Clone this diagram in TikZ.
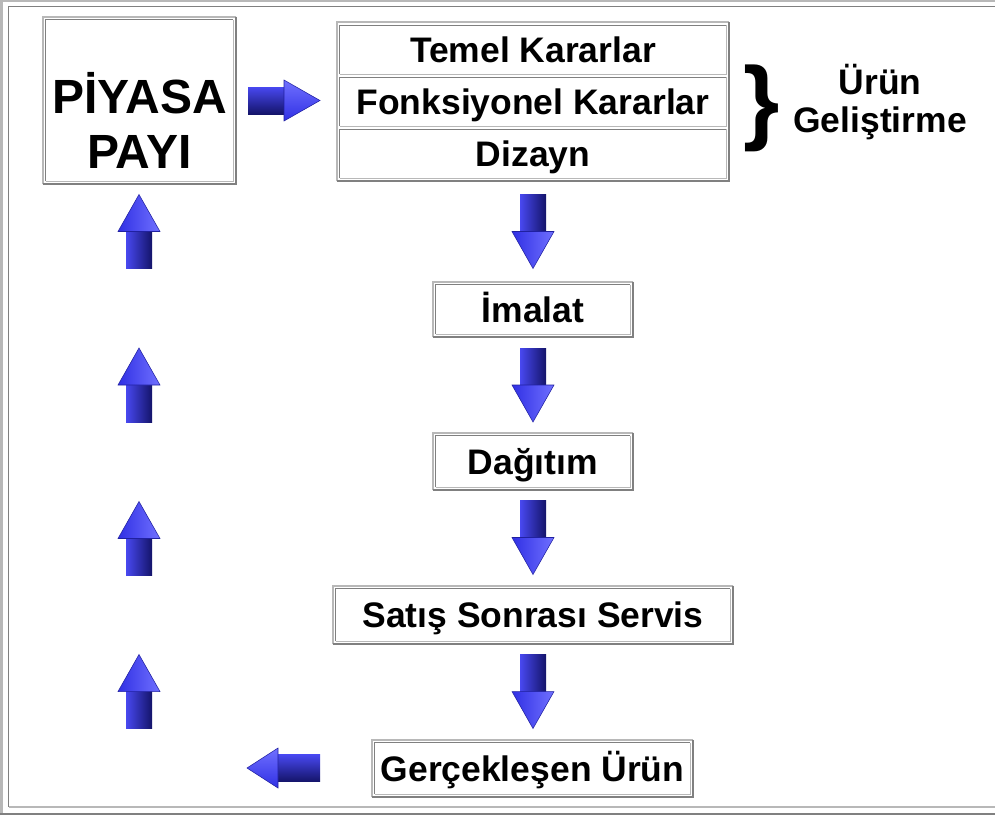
\documentclass[tikz,border=0pt]{standalone}
\usepackage{fontspec}
\setmainfont{Liberation Sans}
\definecolor{lgray}{HTML}{B8B8B8}
\definecolor{dgray}{HTML}{808080}
\definecolor{ashaftL}{HTML}{4848F0}
\definecolor{ashaftM}{HTML}{2828C8}
\definecolor{ashaftR}{HTML}{14146A}
\definecolor{aheadL}{HTML}{3030E4}
\definecolor{aheadR}{HTML}{7070FF}
\definecolor{aheadE}{HTML}{2020A0}
\newcommand\outsetframe[1]{%
  \draw[lline] (#1.south west) -- (#1.north west) -- (#1.north east);
  \draw[dline] (#1.north east) -- (#1.south east) -- (#1.south west);}
\newcommand\insetframe[2]{%
  \draw[dthin] ([shift={(#2,-#2)}]#1.south west) -- ([shift={(#2,#2)}]#1.north west) -- ([shift={(-#2,#2)}]#1.north east);
  \draw[lthin] ([shift={(-#2,#2)}]#1.north east) -- ([shift={(-#2,-#2)}]#1.south east) -- ([shift={(#2,-#2)}]#1.south west);}
\newcommand\blockup[1]{\begin{scope}[shift={#1}]
  \path[left color=ashaftL, middle color=ashaftM, right color=ashaftR] (-13,-1) rectangle (13,37);
  \path[left color=aheadL, right color=aheadR, draw=aheadE, line width=0.4pt] (-21,0) -- (0,-37) -- (21,0) -- cycle;
\end{scope}}
\newcommand\blockdown[1]{\begin{scope}[shift={#1}]
  \path[left color=ashaftL, middle color=ashaftM, right color=ashaftR] (-13,-37) rectangle (13,1);
  \path[left color=aheadL, right color=aheadR, draw=aheadE, line width=0.4pt] (-21,0) -- (0,37) -- (21,0) -- cycle;
\end{scope}}
\newcommand\blockright[1]{\begin{scope}[shift={#1}]
  \path[top color=ashaftL, middle color=ashaftM, bottom color=ashaftR] (-36,-13.5) rectangle (1,13.5);
  \path[top color=aheadR, bottom color=aheadL, draw=aheadE, line width=0.4pt] (0,-20.5) -- (36,0) -- (0,20.5) -- cycle;
\end{scope}}
\newcommand\blockleft[1]{\begin{scope}[shift={#1}]
  \path[top color=ashaftL, middle color=ashaftM, bottom color=ashaftR] (-1,-13.5) rectangle (42,13.5);
  \path[top color=aheadR, bottom color=aheadL, draw=aheadE, line width=0.4pt] (0,-20) -- (-31,0) -- (0,20) -- cycle;
\end{scope}}
\begin{document}
\begin{tikzpicture}[x=0.75pt,y=-0.75pt,
  lline/.style={draw=lgray,line width=1.5pt},
  dline/.style={draw=dgray,line width=1.5pt},
  lthin/.style={draw=lgray,line width=0.9pt},
  dthin/.style={draw=dgray,line width=0.9pt},
  lbl/.style={font=\fontsize{26.6}{32}\selectfont\bfseries, inner sep=0pt, text height=19pt, text depth=0pt},
  boxn/.style={lbl, minimum width=#1*0.75pt}]
\useasboundingbox (0,0) rectangle (995,819);
\fill[white] (0,0) rectangle (995,819);
% outer frame
\draw[lline] (1.5,815) -- (1.5,1) -- (995,1);
\draw[dline] (0,814) -- (995,814);
\draw[dthin] (8.5,807) -- (8.5,6.5) -- (995,6.5);
\draw[lthin] (8.5,807) -- (995,807);
% PIYASA PAYI
\node[minimum width=193*0.75pt, minimum height=167*0.75pt, inner sep=0pt] (piyasa) at (139.5,100.5) {};
\node[font=\fontsize{36}{41.25}\selectfont\bfseries, align=center, inner sep=0pt] (piyasatxt) at (139.5,120) {PİYASA\\PAYI};
\outsetframe{piyasa}\insetframe{piyasa}{3}
% stack
\node[boxn=386, minimum height=48.5*0.75pt] (temel) at (533,49.75) {Temel Kararlar};
\node[boxn=386, minimum height=48.5*0.75pt] (fonks) at (533,101.75) {Fonksiyonel Kararlar};
\node[boxn=386, minimum height=48.5*0.75pt] (dizayn) at (533,153.75) {Dizayn};
\coordinate (stNW) at ([shift={(-3,-3)}]temel.north west);
\coordinate (stSE) at ([shift={(3,3)}]dizayn.south east);
\draw[lline] (stNW |- stSE) -- (stNW) -- (stSE |- stNW);
\draw[dline] (stSE |- stNW) -- (stSE) -- (stNW |- stSE);
\insetframe{temel}{0}\insetframe{fonks}{0}\insetframe{dizayn}{0}
% brace and label
\node[font=\fontsize{70}{70}\selectfont\bfseries, inner sep=0pt] (brace) at (762,108) {\}};
\node[font=\fontsize{26.6}{28.5}\selectfont\bfseries, align=center, inner sep=0pt] (urun) at (880,102.5) {Ürün\\Geliştirme};
% chain
\node[boxn=200, minimum height=55*0.75pt] (imalat) at (533,309.5) {İmalat};
\node[boxn=200, minimum height=57*0.75pt] (dagitim) at (533,461.5) {Dağıtım};
\node[boxn=400, minimum height=58*0.75pt] (satis) at (533,615) {Satış Sonrası Servis};
\node[boxn=321, minimum height=57*0.75pt] (gercek) at (532.5,768.5) {Gerçekleşen Ürün};
\outsetframe{imalat}\insetframe{imalat}{3}
\outsetframe{dagitim}\insetframe{dagitim}{3}
\outsetframe{satis}\insetframe{satis}{3}
\outsetframe{gercek}\insetframe{gercek}{3}
% block arrows
\blockright{(284,100.5)}
\blockdown{(533,231.5)}
\blockdown{(533,385)}
\blockdown{(533,537.5)}
\blockdown{(533,691.5)}
\blockup{(139,231.5)}
\blockup{(139,385)}
\blockup{(139,538.5)}
\blockup{(139,691.5)}
\blockleft{(278,768)}
\end{tikzpicture}
\end{document}
